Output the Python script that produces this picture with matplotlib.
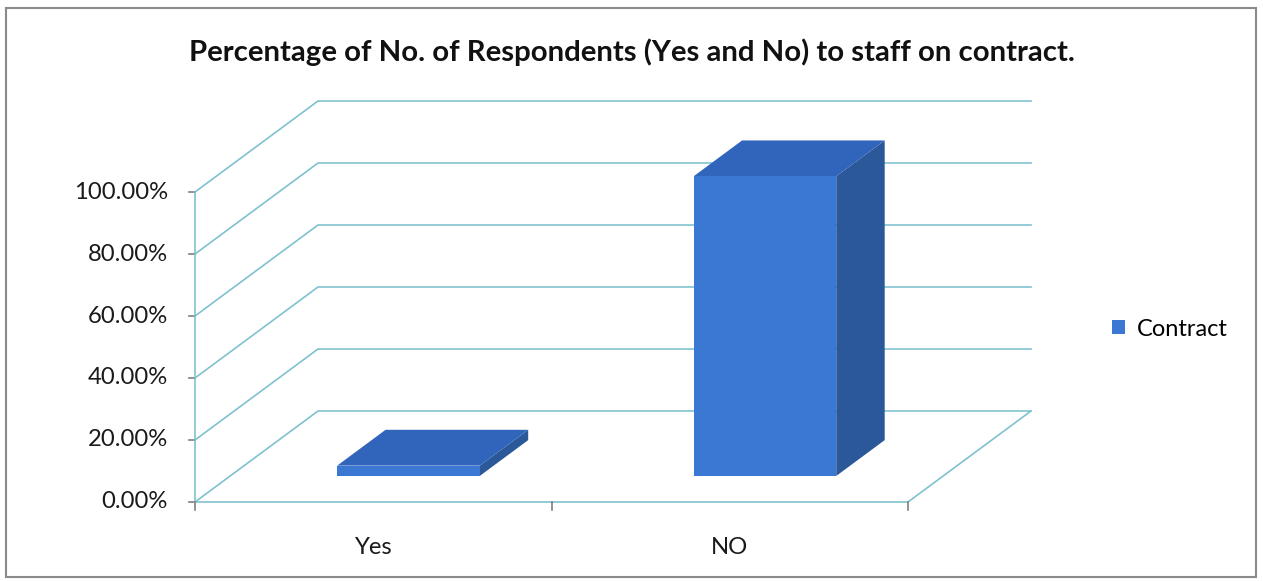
import matplotlib.pyplot as plt
from matplotlib.patches import Polygon, Patch, Rectangle

categories = ['Yes', 'NO']
values = [3.33, 96.67]
series_name = 'Contract'
y_ticks = [0, 20, 40, 60, 80, 100]
title = 'Percentage of No. of Respondents (Yes and No) to staff on contract.'

plt.rcParams['font.family'] = ['Lato', 'DejaVu Sans']

W, H = 1263, 581
fig = plt.figure(figsize=(W / 100, H / 100), dpi=100)
ax = fig.add_axes([0, 0, 1, 1])

# pixel mapping: category slot = 356.5 px, 1% = 3.1 px
x0_px, y0_px = 195, 79
sx, sy = 356.5, 3.1
ax.set_xlim(-x0_px / sx, (W - x0_px) / sx)
ax.set_ylim(-y0_px / sy, (H - y0_px) / sy)
ax.axis('off')

DX, DY = 123 / sx, 91 / sy
grid_c = '#7fc2cf'
n = len(categories)

# back wall gridlines + side wall diagonals
for v in y_ticks:
    ax.plot([0, DX, n + DX], [v, v + DY, v + DY], color=grid_c, lw=1.2, zorder=1)
    ax.plot([-0.018, 0], [v, v], color='#808080', lw=1.2, zorder=2)
ax.plot([0, n, n + DX], [0, 0, DY], color=grid_c, lw=1.2, zorder=1)
ax.plot([0, 0], [0, y_ticks[-1]], color=grid_c, lw=1.2, zorder=2)
for i in range(n + 1):
    ax.plot([i, i], [0, -2.6], color='#808080', lw=1.2, zorder=2)

for v in y_ticks:
    ax.text(-27 / sx, v, f'{v:.2f}%', ha='right', va='center', fontsize=17.2, color='#1a1a1a')

# 3D-ish bars
f0, f1 = 0.286, 0.68
bw = 0.4
front_c, top_c, side_c = '#3b78d4', '#3065bb', '#2a5898'
for i, (cat, v) in enumerate(zip(categories, values)):
    xl, xr = i + 0.5 - bw / 2, i + 0.5 + bw / 2
    fx, fy = f0 * DX, f0 * DY
    bx, by = f1 * DX, f1 * DY
    side = [(xr + fx, fy), (xr + fx, v + fy), (xr + bx, v + by), (xr + bx, by)]
    top = [(xl + fx, v + fy), (xr + fx, v + fy), (xr + bx, v + by), (xl + bx, v + by)]
    front = [(xl + fx, fy), (xr + fx, fy), (xr + fx, v + fy), (xl + fx, v + fy)]
    ax.add_patch(Polygon(side, closed=True, fc=side_c, ec='none', zorder=3))
    ax.add_patch(Polygon(top, closed=True, fc=top_c, ec='none', zorder=3))
    ax.add_patch(Polygon(front, closed=True, fc=front_c, ec='none', zorder=4))
    ax.text(i + 0.5, -14.8, cat, ha='center', va='center', fontsize=17.2, color='#1a1a1a')

fig.text(632 / W, 1 - 52 / H, title, ha='center', va='center', fontsize=21.2,
         fontweight='bold', color='#111111')

ax.legend(handles=[Patch(fc=front_c, ec='none', label=series_name)],
          loc='center left', bbox_to_anchor=(1091 / W, 1 - 329 / H),
          bbox_transform=fig.transFigure, frameon=False, fontsize=17,
          handlelength=0.55, handleheight=0.55, handletextpad=0.5)

fig.add_artist(Rectangle((6 / W, 4 / H), 1250 / W, 569 / H, transform=fig.transFigure,
                         fill=False, ec='#8a8a8a', lw=1.5))

fig.savefig('out.png', dpi=100)
